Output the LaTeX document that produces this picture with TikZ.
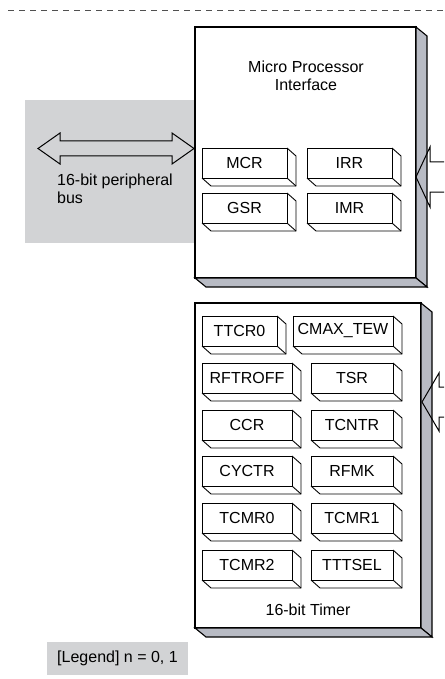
\documentclass[tikz,border=0pt]{standalone}
\usepackage{fontspec}
\setmainfont{Liberation Sans}
\definecolor{busgray}{RGB}{210,211,213}
\definecolor{sidegray}{RGB}{184,187,196}
\definecolor{dashgray}{RGB}{80,80,80}
\tikzset{
  txt/.style={font=\fontsize{16}{18}\selectfont, inner sep=0pt},
  bigbox/.style={draw=black, line width=1.1pt, fill=white, inner sep=0pt, outer sep=0pt, anchor=north west},
  bigside/.style={draw=black, line width=1.1pt, fill=sidegray, line join=miter},
  regbox/.style={draw=black, line width=0.9pt, fill=white, inner sep=0pt, outer sep=0pt, minimum height=30pt, anchor=north west, font=\fontsize{16}{18}\selectfont},
  regside/.style={draw=black, line width=0.9pt, line join=miter},
  hollow/.style={draw=black, line width=1pt, line join=miter},
  topdash/.style={draw=dashgray, line width=0.9pt, dash pattern=on 6pt off 5pt},
  grayarea/.style={fill=busgray, draw=none},
}
\newcommand{\reg}[5]{%
  \node[regbox, minimum width=#4pt] (#1) at (#2,#3) {#5};
  \draw[regside] (#1.north east) -- ++(9,8) -- ([shift={(9,8)}]#1.south east)
     -- ([shift={(9,8)}]#1.south west) -- (#1.south west);
  \draw[regside] (#1.south east) -- ([shift={(9,8)}]#1.south east);
}
\newcommand{\bigsides}[1]{%
  \draw[bigside] (#1.north east) -- ++(11,9) -- ([shift={(11,9)}]#1.south east) -- (#1.south east) -- cycle;
  \draw[bigside] (#1.south west) -- ([shift={(11,9)}]#1.south west) -- ([shift={(11,9)}]#1.south east) -- (#1.south east) -- cycle;
}
\begin{document}
\begin{tikzpicture}[x=1pt, y=-1pt]
\useasboundingbox (0,0) rectangle (444,679);
% top dashed line
\coordinate (dashL) at (8,10);
\coordinate (dashR) at (444,10);
\draw[topdash] (dashL) -- (dashR);

% peripheral bus area
\fill[grayarea] (25,100) rectangle (195,243);

% Micro processor interface box
\node[bigbox, minimum width=221pt, minimum height=251pt] (mpi) at (195,27) {};
\bigsides{mpi}
\node[txt, align=center] (mpititle) at (306,76) {Micro Processor\\Interface};

\reg{mcr}{202}{148}{85}{MCR}
\reg{irr}{307}{148}{85}{IRR}
\reg{gsr}{202}{193}{85}{GSR}
\reg{imr}{307}{193}{85}{IMR}

% bus double arrow
\coordinate (busL) at (38,148.5);
\coordinate (busR) at (194,148.5);
\draw[hollow] (busL) -- ++(22,-15.5) -- ++(0,8) -- ++(112,0) -- ++(0,-8) -- (busR)
   -- ++(-22,15.5) -- ++(0,-8) -- ++(-112,0) -- ++(0,8) -- cycle;
\node[txt, align=left, anchor=west] (buslabel) at (57,189) {16-bit peripheral\\bus};

% arrow into MPI from the right
\coordinate (mpitip) at (416,177);
\draw[hollow] (444,162) -- (430,162) -- (430,147) -- (mpitip) -- (430,207) -- (430,192) -- (444,192);

% Timer box
\node[bigbox, minimum width=226pt, minimum height=325pt] (timer) at (195,303) {};
\bigsides{timer}

\reg{ttcr}{202}{316}{75}{TTCR0}
\reg{cmax}{293}{316}{100}{CMAX\_TEW}
\reg{rft}{202}{363}{90}{RFTROFF}
\reg{tsr}{311}{363}{82}{TSR}
\reg{ccr}{202}{410}{90}{CCR}
\reg{tcntr}{311}{410}{82}{TCNTR}
\reg{cyctr}{202}{456}{90}{CYCTR}
\reg{rfmk}{311}{456}{82}{RFMK}
\reg{tcmra}{202}{503}{90}{TCMR0}
\reg{tcmrb}{311}{503}{82}{TCMR1}
\reg{tcmrc}{202}{550}{90}{TCMR2}
\reg{tttsel}{311}{550}{82}{TTTSEL}
\node[txt] (timertitle) at (308,610) {16-bit Timer};

% arrow into Timer from the right
\coordinate (timtip) at (422,402);
\draw[hollow] (444,387) -- (439,387) -- (439,373) -- (timtip) -- (439,431) -- (439,417) -- (444,417);

% legend
\fill[grayarea] (47,642) rectangle (188,675);
\node[txt] (legend) at (117.5,658.5) {[Legend] n = 0, 1};
\end{tikzpicture}
\end{document}
